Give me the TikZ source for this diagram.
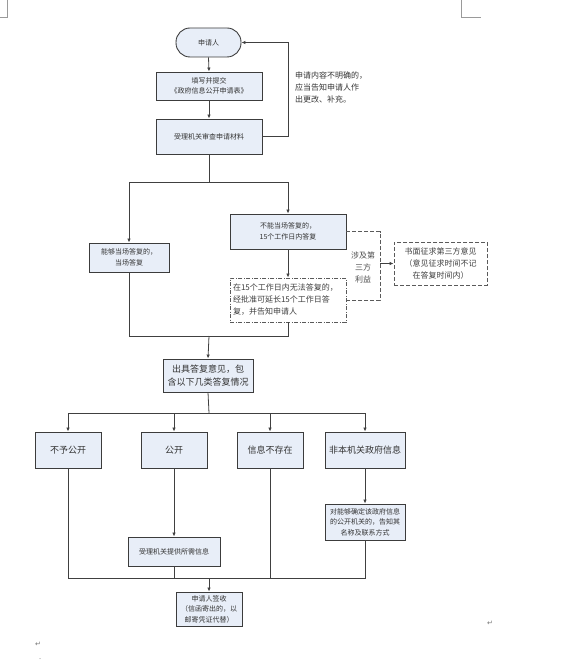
\documentclass[tikz,border=0pt]{standalone}
\usepackage{fontspec}
\setmainfont{Noto Sans CJK SC}
\newfontfamily\symfont{DejaVu Sans}
\usetikzlibrary{arrows.meta}
\definecolor{boxfill}{HTML}{E8EEF8}
\definecolor{boxline}{HTML}{3C3C3C}
\definecolor{conn}{HTML}{404040}
\definecolor{dashline}{HTML}{5A5A5A}
\definecolor{cornermark}{HTML}{9A9A9A}
\tikzset{
  box/.style={draw=boxline, line width=0.9pt, fill=boxfill, inner sep=1pt, align=center, text=black!80},
  sz7/.style={font=\fontsize{7}{10.5}\selectfont},
  sz8/.style={font=\fontsize{8}{12}\selectfont},
  sz9/.style={font=\fontsize{9}{13.5}\selectfont},
  link/.style={draw=conn, line width=0.8pt},
  arr/.style={link, -{Latex[length=4pt,width=3.5pt]}},
  dbox/.style={draw=dashline, line width=0.9pt, dash pattern=on 4pt off 2pt, fill=white, inner sep=1pt, text=black!75},
  cornerline/.style={draw=cornermark, line width=0.6pt},
}
\begin{document}
\begin{tikzpicture}[x=1pt,y=-1pt]
\useasboundingbox (0,0) rectangle (573,660);
% page corner marks
\coordinate (tl1) at (7,0);
\coordinate (tl2) at (7,17);
\coordinate (tl3) at (0,17);
\coordinate (tr1) at (461,0);
\coordinate (tr2) at (461,17);
\coordinate (tr3) at (481,17);
\draw[cornerline] (tl1) -- (tl2) -- (tl3);
\draw[cornerline] (tr1) -- (tr2) -- (tr3);

% nodes
\node[box, sz7, rounded corners=14pt, minimum width=65pt, minimum height=29pt] (start) at (208.5,42.5) {申请人};
\node[box, sz7, minimum width=106pt, minimum height=28pt] (fill) at (209,86) {填写并提交\\《政府信息公开申请表》};
\node[box, sz7, minimum width=106pt, minimum height=35pt] (review) at (209,136.5) {受理机关审查申请材料};
\node[box, sz7, minimum width=80pt, minimum height=29pt] (can) at (129,257.5) {能够当场答复的，\\当场答复};
\node[box, sz7, minimum width=116pt, minimum height=35pt] (cannot) at (288,231.5) {不能当场答复的，\\15个工作日内答复};
\node[dbox, sz8, dash pattern=on 4pt off 1.5pt on 1pt off 1.5pt, minimum width=116pt, minimum height=44pt, align=left, text width=110pt] (extend) at (288,300) {在15个工作日内无法答复的，\\经批准可延长15个工作日答\\复，并告知申请人};
\node[dbox, sz8, minimum width=93pt, minimum height=43pt, align=center] (third) at (440.5,263.5) {书面征求第三方意见\\（意见征求时间不记\\在答复时间内）};
\node[box, sz9, minimum width=90pt, minimum height=33pt] (issue) at (208,375.5) {出具答复意见，包\\含以下几类答复情况};
\node[box, sz9, minimum width=66pt, minimum height=36pt] (c1) at (68,450) {不予公开};
\node[box, sz9, minimum width=66pt, minimum height=36pt] (c2) at (174,450) {公开};
\node[box, sz9, minimum width=66pt, minimum height=36pt] (c3) at (270,450) {信息不存在};
\node[box, sz9, minimum width=80pt, minimum height=36pt] (c4) at (365,450) {非本机关政府信息};
\node[box, sz7, minimum width=92pt, minimum height=29pt] (provide) at (174,551.5) {受理机关提供所需信息};
\node[box, sz7, minimum width=80pt, minimum height=36pt] (notify) at (365,522) {对能够确定该政府信息\\的公开机关的，告知其\\名称及联系方式};
\node[box, sz7, minimum width=66pt, minimum height=34pt] (sign) at (209,609) {申请人签收\\（信函寄出的，以\\邮寄凭证代替）};

% annotations
\node[sz8, anchor=north west, align=left, inner sep=0pt, text=black!80] (note) at (295,72) {申请内容不明确的，\\应当告知申请人作\\出更改、补充。};
\node[sz8, align=center, inner sep=0pt, text=black!70] (tp) at (363,267.5) {涉及第\\三方\\利益};

% helper coordinates
\coordinate (split1) at (209,182);
\coordinate (merge1) at (209,336);
\coordinate (split2) at (209,413);
\coordinate (merge2) at (209,578);
\coordinate (dtop) at (380,231.5);
\coordinate (dbot) at (380,300);
\coordinate (dmid) at (380,263.5);

% connectors
\draw[arr] (start.south) -- (fill.north);
\draw[arr] (fill.south) -- (review.north);
\draw[arr] (review.east) -- ++(26,0) |- (start.east);
\draw[link] (review.south) -- (split1);
\draw[arr] (split1) -| (can.north);
\draw[arr] (split1) -| (cannot.north);
\draw[arr] (cannot.south) -- (extend.north);
\draw[draw=dashline, line width=0.9pt, dash pattern=on 4pt off 2pt] (cannot.east) -- (dtop) -- (dbot) -- (extend.east);
\draw[arr] (dmid) -- (third.west);
\draw[link] (can.south) |- (merge1);
\draw[link] (extend.south) |- (merge1);
\draw[arr] (merge1) -- (issue.north);
\draw[link] (issue.south) -- (split2);
\draw[arr] (split2) -| (c1.north);
\draw[arr] (split2) -| (c2.north);
\draw[arr] (split2) -| (c3.north);
\draw[arr] (split2) -| (c4.north);
\draw[arr] (c2.south) -- (provide.north);
\draw[arr] (c4.south) -- (notify.north);
\draw[link] (c1.south) |- (merge2);
\draw[link] (provide.south) |- (merge2);
\draw[link] (c3.south) |- (merge2);
\draw[link] (notify.south) |- (merge2);
\draw[arr] (merge2) -- (sign.north);

% paragraph marks
\node[text=black!55, font=\symfont\fontsize{7}{8}\selectfont, inner sep=0pt] (pm1) at (490,623) {↵};
\node[text=black!55, font=\symfont\fontsize{7}{8}\selectfont, inner sep=0pt] (pm2) at (38,644) {↵};
\fill[black!50] (40,658.5) circle (0.5pt);
\end{tikzpicture}
\end{document}
